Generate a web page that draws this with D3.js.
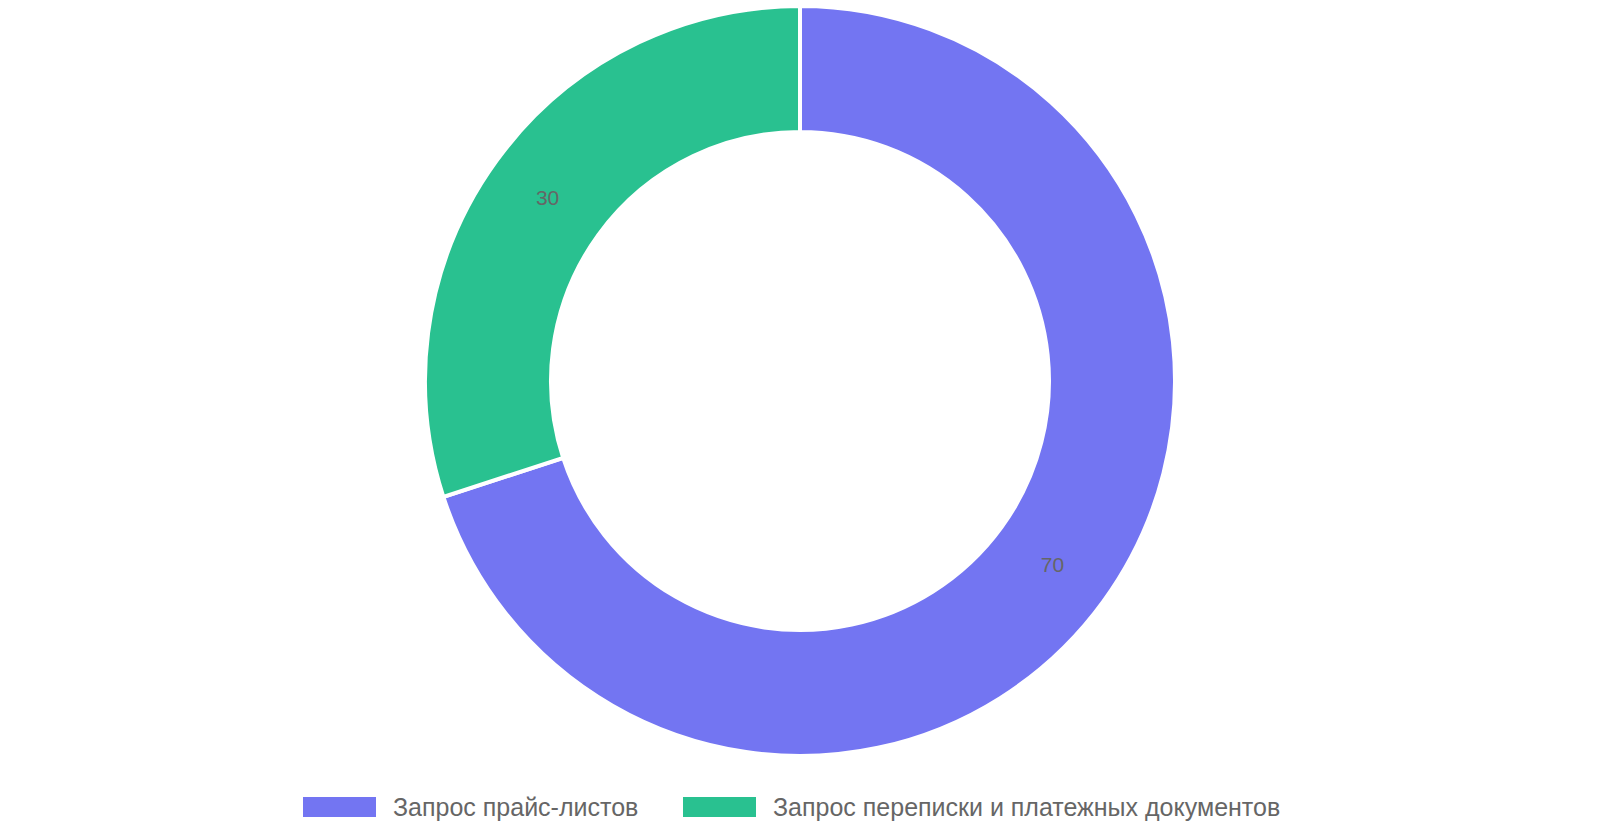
<!DOCTYPE html>
<html><head><meta charset="utf-8">
<script src="https://cdn.jsdelivr.net/npm/d3@7"></script>
<style>body{margin:0;background:#fff}</style></head>
<body><svg id="c" width="1600" height="840"></svg>
<script>
const categories = ["Запрос прайс-листов", "Запрос переписки и платежных документов"];
const values = [70, 30];
const colors = ["#7375f2", "#29c190"];

const svg = d3.select("#c");
const cx = 800, cy = 381, rOut = 375, rIn = 249;
const g = svg.append("g").attr("transform", `translate(${cx},${cy})`);
const pie = d3.pie().sort(null).value(d => d)(values);
const arc = d3.arc().innerRadius(rIn).outerRadius(rOut);
const labelArc = d3.arc().innerRadius((rIn+rOut)/2).outerRadius((rIn+rOut)/2);
g.selectAll("path").data(pie).join("path")
  .attr("d", arc).attr("fill", (d,i) => colors[i])
  .attr("stroke", "#fff").attr("stroke-width", 4);
g.selectAll("text").data(pie).join("text")
  .attr("transform", d => `translate(${labelArc.centroid(d)})`)
  .attr("text-anchor", "middle").attr("dominant-baseline", "central")
  .attr("font-family", "Liberation Sans, Arial, sans-serif").attr("font-size", 21)
  .attr("fill", "#666").text(d => d.data);

const legX = [303, 683];
const lg = svg.append("g");
categories.forEach((c, i) => {
  lg.append("rect").attr("x", legX[i]).attr("y", 797).attr("width", 73).attr("height", 20).attr("fill", colors[i]);
  lg.append("text").attr("x", legX[i] + 90).attr("y", 807).attr("dominant-baseline", "central")
    .attr("font-family", "Liberation Sans, Arial, sans-serif").attr("font-size", 25)
    .attr("fill", "#666").text(c);
});
</script></body></html>
